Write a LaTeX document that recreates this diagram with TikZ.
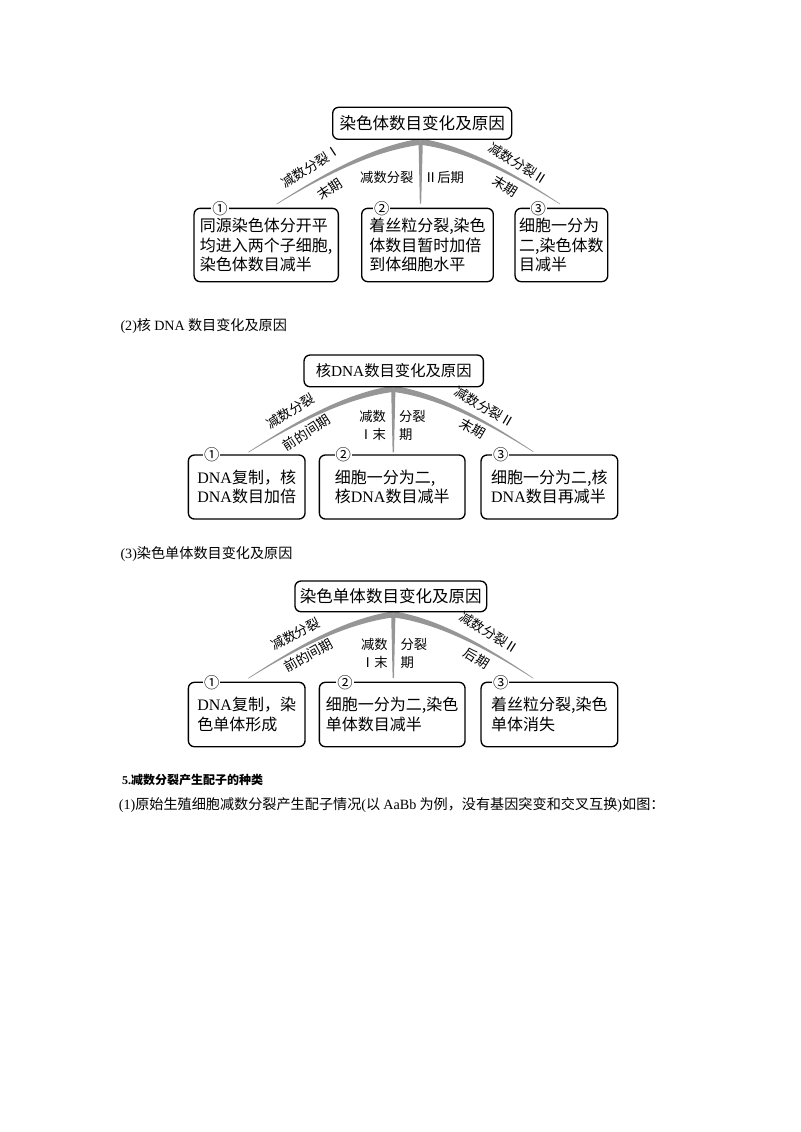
\documentclass[tikz,border=0pt]{standalone}
\usepackage{fontspec}
\setmainfont{Noto Sans CJK SC}
\newfontfamily\en{Liberation Serif}
\usetikzlibrary{calc}

\definecolor{arcgray}{RGB}{150,150,150}
\tikzset{every picture/.style={line width=0.75pt}}
\tikzset{
  topbox/.style={draw, fill=white, rounded corners=4.5pt, line width=1pt, inner sep=0pt, font=\fontsize{12.4}{14}\selectfont},
  stagebox/.style={draw, fill=white, rounded corners=4.5pt, line width=1pt, inner sep=0pt, align=left, font=\fontsize{12}{14.6}\selectfont},
  numtag/.style={fill=white, inner sep=0.8pt, font=\fontsize{11.5}{11.5}\selectfont},
  phase/.style={inner sep=0pt, font=\fontsize{10}{13.7}\selectfont},
  para/.style={anchor=west, inner sep=0pt, font=\fontsize{10.6}{12}\selectfont}
}
% tapered grey branch: apex, end, half width at the apex
\newcommand\taperarc[3]{%
  \fill[arcgray] let \p1=(#1), \p2=(#2) in
    (\x1,\y1-#3)
    .. controls ({\x1+(\x2-\x1)/3},{\y1+0.11*(\y2-\y1)-0.85*#3})
    and ({\x2-(\x2-\x1)/3},{\y2-0.48*(\y2-\y1)-0.4*#3}) .. (\x2,\y2-0.25pt)
    -- (\x2,\y2+0.25pt)
    .. controls ({\x2-(\x2-\x1)/3},{\y2-0.48*(\y2-\y1)+0.4*#3})
    and ({\x1+(\x2-\x1)/3},{\y1+0.11*(\y2-\y1)+0.85*#3}) .. (\x1,\y1+#3) -- cycle;}
\newcommand\taperstem[2]{%
  \fill[arcgray] let \p1=(#1), \p2=(#2) in
    (\x1-1.6pt,\y1) -- (\x1+1.6pt,\y1) -- (\x2+0.5pt,\y2) -- (\x2-0.5pt,\y2) -- cycle;}

\begin{document}
\begin{tikzpicture}[x=0.75pt,y=0.75pt,yscale=-1,xscale=1]
\useasboundingbox (0,0) rectangle (800,1132);

%%%%%%%% (1) chromosome number
% branch points
\coordinate (a1) at (420.7,141.7);
\coordinate (l1) at (276.7,204);
\coordinate (r1) at (560,204);
\coordinate (s1) at (420.5,203.5);
\taperarc{a1}{l1}{2.3pt}
\taperarc{a1}{r1}{2.3pt}
\taperstem{a1}{s1}

% Top box
\node[topbox, minimum width=134.3pt, minimum height=24pt] (top1) at (422.2,123.3) {染色体数目变化及原因};
% Stage boxes
\node[stagebox, minimum width=108.2pt, minimum height=55pt] (b11) at (266.2,245) {同源染色体分开平\\均进入两个子细胞,\\染色体数目减半};
\node[stagebox, minimum width=98.7pt, minimum height=55pt] (b12) at (427.5,245) {着丝粒分裂,染色\\体数目暂时加倍\\到体细胞水平};
\node[stagebox, minimum width=69.5pt, minimum height=55pt] (b13) at (561.4,245) {细胞一分为\\二,染色体数\\目减半};
\node[numtag] (n11) at (220,208.3) {①};
\node[numtag] (n12) at (381.7,208.3) {②};
\node[numtag] (n13) at (538.3,208.3) {③};

% Text Node
\node[phase, rotate=33] (p11) at (311,166.5) {减数分裂Ⅰ};
\node[phase, rotate=33] (p12) at (329.5,189) {末期};
\node[phase, anchor=east] (p13) at (414,177.3) {减数分裂};
\node[phase, anchor=west] (p14) at (423.5,177.3) {Ⅱ后期};
\node[phase, rotate=-32] (p15) at (518.5,163.5) {减数分裂Ⅱ};
\node[phase, rotate=-32] (p16) at (505,186) {末期};

%%%%%%%% (2) nuclear DNA
% Text Node
\node[para] (h2) at (120,325.5) {{\en (2)}核 {\en DNA} 数目变化及原因};

\coordinate (a2) at (393.3,388.8);
\coordinate (l2) at (248.3,452.3);
\coordinate (r2) at (533.3,451.7);
\coordinate (s2) at (393.3,452.3);
\taperarc{a2}{l2}{2.3pt}
\taperarc{a2}{r2}{2.3pt}
\taperstem{a2}{s2}

\node[topbox, minimum width=134.5pt, minimum height=23.8pt, font=\fontsize{11.5}{14}\selectfont] (top2) at (393.7,370.9) {核{\en DNA}数目变化及原因};
\node[stagebox, minimum width=87.5pt, minimum height=48pt] (b21) at (246.7,487) {{\en DNA}复制，核\\{\en DNA}数目加倍};
\node[stagebox, minimum width=109.3pt, minimum height=48pt] (b22) at (392.2,487) {细胞一分为二,\\核{\en DNA}数目减半};
\node[stagebox, minimum width=102.5pt, minimum height=48pt] (b23) at (549.4,487) {细胞一分为二,核\\{\en DNA}数目再减半};
\node[numtag] (n21) at (211.7,455) {①};
\node[numtag] (n22) at (343.3,455) {②};
\node[numtag] (n23) at (500.7,455) {③};

% Text Node
\node[phase, rotate=32] (p21) at (290.5,411.5) {减数分裂};
\node[phase, rotate=33] (p22) at (306.5,432.5) {前的间期};
\node[phase, anchor=east, align=right] (p23) at (386.5,425.2) {减数\\Ⅰ末};
\node[phase, anchor=west, align=left] (p24) at (398.5,425.2) {分裂\\期};
\node[phase, rotate=-30] (p25) at (484.5,407) {减数分裂Ⅱ};
\node[phase, rotate=-30] (p26) at (473,428.5) {末期};

%%%%%%%% (3) chromatid number
% Text Node
\node[para] (h3) at (120,553.8) {{\en (3)}染色单体数目变化及原因};

\coordinate (a3) at (393.3,614.3);
\coordinate (l3) at (248.3,678.3);
\coordinate (r3) at (533.3,678.3);
\coordinate (s3) at (393.3,678);
\taperarc{a3}{l3}{2.3pt}
\taperarc{a3}{r3}{2.3pt}
\taperstem{a3}{s3}

\node[topbox, minimum width=143.8pt, minimum height=23pt] (top3) at (390.8,596.4) {染色单体数目变化及原因};
\node[stagebox, minimum width=87.5pt, minimum height=48.3pt] (b31) at (246.7,714.5) {{\en DNA}复制，染\\色单体形成};
\node[stagebox, minimum width=109.3pt, minimum height=48.3pt] (b32) at (392.2,714.5) {细胞一分为二,染色\\单体数目减半};
\node[stagebox, minimum width=102.5pt, minimum height=48.3pt] (b33) at (549.4,714.5) {着丝粒分裂,染色\\单体消失};
\node[numtag] (n31) at (211.7,682.3) {①};
\node[numtag] (n32) at (345,682.3) {②};
\node[numtag] (n33) at (500.7,682.3) {③};

% Text Node
\node[phase, rotate=28] (p31) at (295.5,634) {减数分裂};
\node[phase, rotate=29] (p32) at (308.5,655.5) {前的间期};
\node[phase, anchor=east, align=right] (p33) at (388.3,653.7) {减数\\Ⅰ末};
\node[phase, anchor=west, align=left] (p34) at (400,653.7) {分裂\\期};
\node[phase, rotate=-32] (p35) at (489.5,633) {减数分裂Ⅱ};
\node[phase, rotate=-32] (p36) at (476.7,658) {后期};

%%%%%%%% section 5
% Text Node
\node[para, font=\fontsize{9}{11}\selectfont\bfseries] (h5) at (121.7,780) {{\en 5.}减数分裂产生配子的种类};
\node[para] (h51) at (118.3,805) {{\en (1)}原始生殖细胞减数分裂产生配子情况{\en (}以 {\en AaBb} 为例，没有基因突变和交叉互换{\en )}如图：};

\end{tikzpicture}
\end{document}
